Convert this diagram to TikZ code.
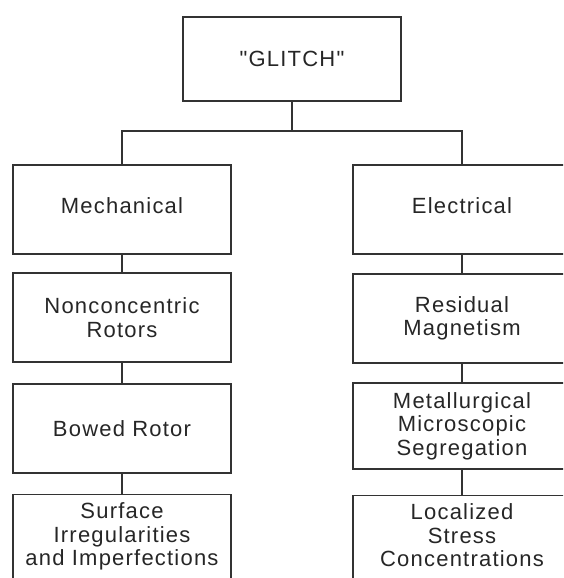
\documentclass[tikz,border=0pt]{standalone}
\usepackage{fontspec}
\newfontfamily\boxfont{Liberation Sans}[LetterSpace=5.5]
\usepackage{xcolor}
\usetikzlibrary{positioning}
\definecolor{ink}{HTML}{262626}
\definecolor{edge}{HTML}{333333}
\tikzset{
  box/.style={draw=edge, line width=1.4pt, rectangle, minimum width=218pt, minimum height=89pt,
    align=center, text=ink, inner sep=0pt, font=\boxfont\fontsize{22}{23.5}\selectfont},
  topbox/.style={box, minimum height=84pt},
  headbox/.style={box, text height=16pt, text depth=9pt},
  link/.style={draw=edge, line width=1.4pt}
}

\begin{document}
\begin{tikzpicture}[x=1pt, y=-1pt]
  \useasboundingbox (0,0) rectangle (563,578);
  \clip (0,0) rectangle (563,578);

  % root
  \node[topbox] (glitch) at (292,59) {"GLITCH"};
  \coordinate (split) at (292,131);

  % mechanical branch
  \node[headbox] (mech) at (122,209.5) {Mechanical};
  \node[box] (nonconc) at (122,317.5) {Nonconcentric\\Rotors};
  \node[box] (bowed) at (122,428.5) {Bowed Rotor};
  \node[box, text depth=9pt] (surface) at (122,539) {Surface\\Irregularities\\and Imperfections};

  % electrical branch
  \node[headbox] (elec) at (462,209.5) {Electrical};
  \node[box] (resid) at (462,318.5) {Residual\\Magnetism};
  \node[box, minimum height=86pt] (metal) at (462,426) {Metallurgical\\Microscopic\\Segregation};
  \node[box, text depth=9pt] (stress) at (462,540) {Localized\\Stress\\Concentrations};

  \draw[link] (glitch.south) -- (split);
  \draw[link] (mech.north) |- (split) -| (elec.north);
  \draw[link] (mech) -- (nonconc);
  \draw[link] (nonconc) -- (bowed);
  \draw[link] (bowed) -- (surface);
  \draw[link] (elec) -- (resid);
  \draw[link] (resid) -- (metal);
  \draw[link] (metal) -- (stress);
\end{tikzpicture}
\end{document}
